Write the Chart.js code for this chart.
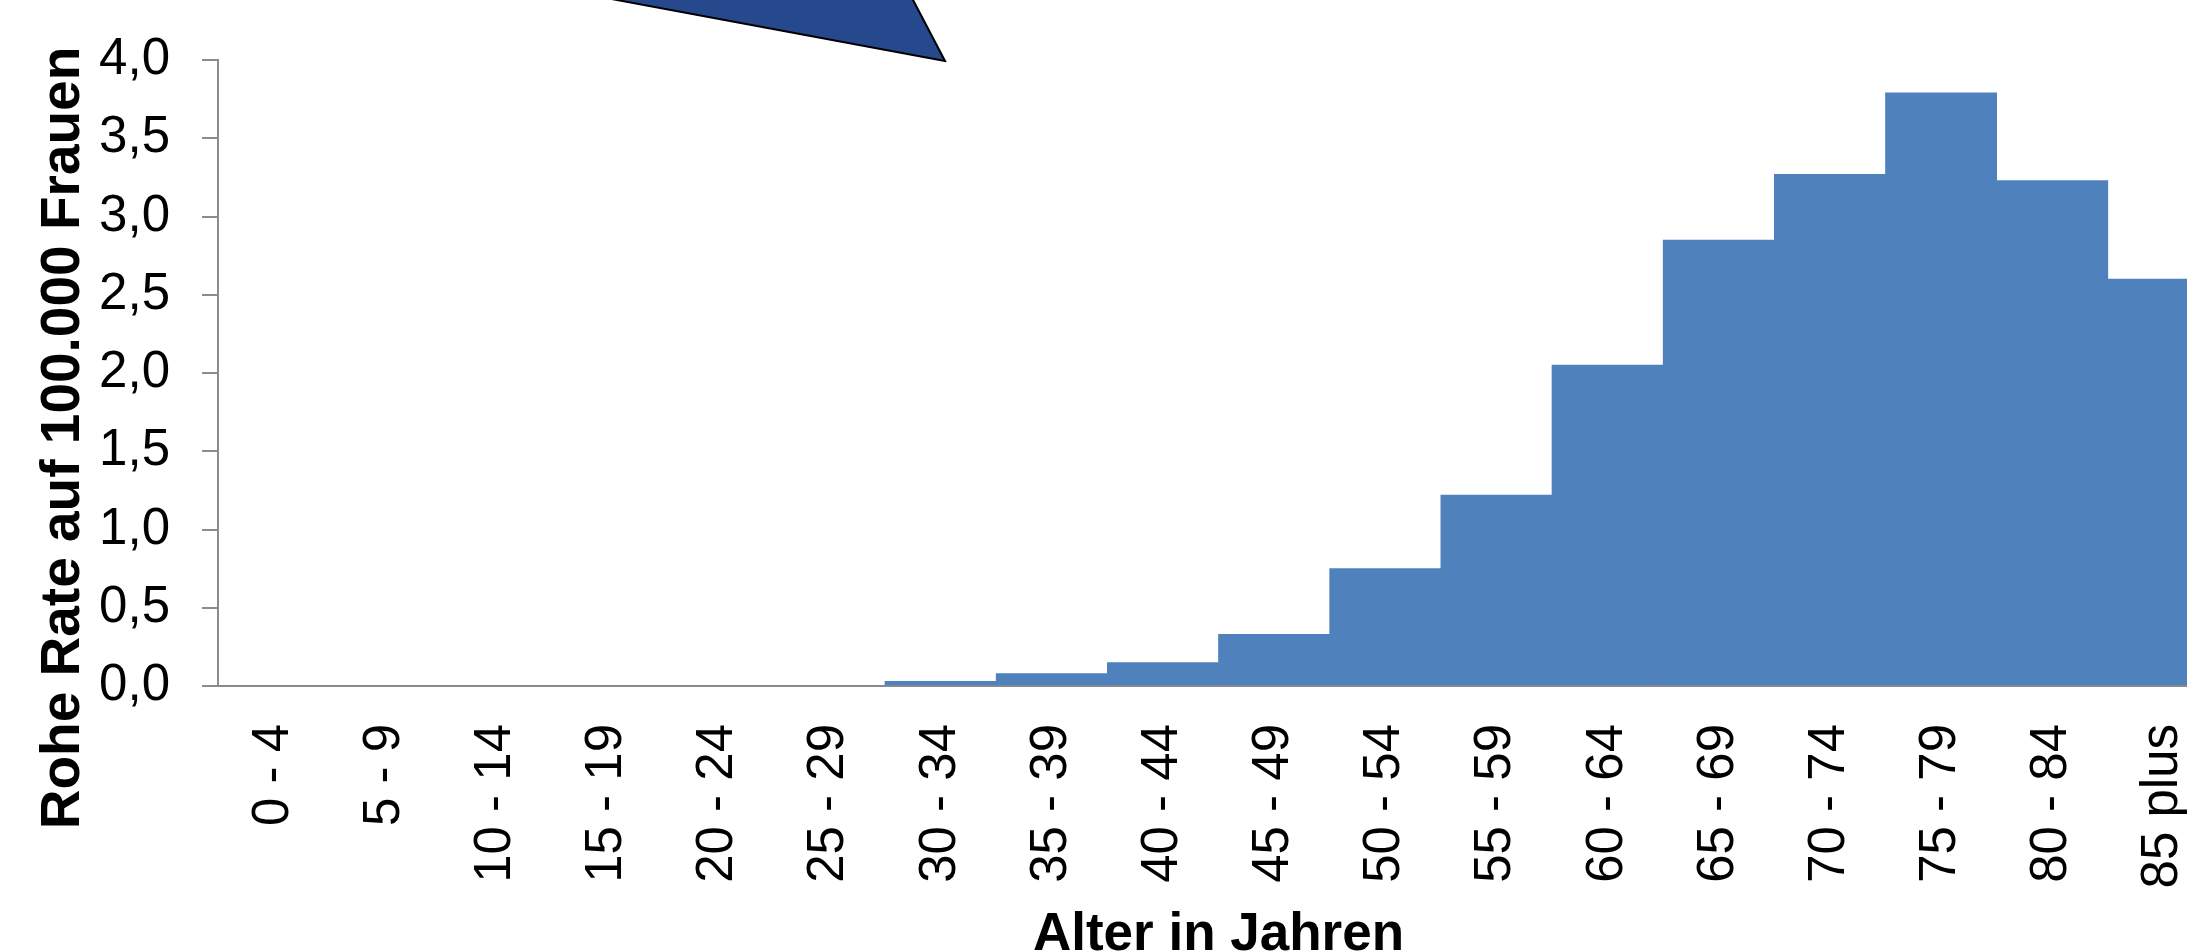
<!DOCTYPE html>
<html>
<head>
<meta charset="utf-8">
<script src="https://cdn.jsdelivr.net/npm/chart.js@4.4.1/dist/chart.umd.min.js"></script>
<style>
  html, body { margin: 0; padding: 0; background: #ffffff; overflow: hidden; width: 2187px; height: 952px; }
  #wrap { position: absolute; left: 0; top: 0; width: 2219px; height: 952px; }
  canvas { display: block; }
</style>
</head>
<body>
<div id="wrap"><canvas id="c" width="2219" height="952"></canvas></div>
<script>
// ---- data ----
const ageGroups = ['0 - 4', '5 - 9', '10 - 14', '15 - 19', '20 - 24', '25 - 29', '30 - 34', '35 - 39',
  '40 - 44', '45 - 49', '50 - 54', '55 - 59', '60 - 64', '65 - 69', '70 - 74', '75 - 79', '80 - 84', '85 plus'];
const rates = [0, 0, 0, 0, 0, 0, 0.03, 0.08, 0.15, 0.33, 0.75, 1.22, 2.05, 2.85, 3.27, 3.79, 3.23, 2.60];
const yTickValues = [0, 0.5, 1.0, 1.5, 2.0, 2.5, 3.0, 3.5, 4.0];
const yTickLabels = ['0,0', '0,5', '1,0', '1,5', '2,0', '2,5', '3,0', '3,5', '4,0'];
const yTitle = 'Rohe Rate auf 100.000 Frauen';
const xTitle = 'Alter in Jahren';

const FONT = '"Liberation Sans", Arial, sans-serif';

const decorPlugin = {
  id: 'decor',
  afterDraw(chart) {
    const ctx = chart.ctx;
    const area = chart.chartArea;
    ctx.save();
    // callout pointer shape at the top
    ctx.beginPath();
    ctx.moveTo(945, 61);
    ctx.lineTo(617 - 5.38 * 12, -12);
    ctx.lineTo(913 - 0.52 * 12, -12);
    ctx.closePath();
    ctx.fillStyle = '#26488C';
    ctx.fill();
    ctx.lineWidth = 2;
    ctx.strokeStyle = '#000000';
    ctx.stroke();

    // axis titles
    ctx.fillStyle = '#000000';
    ctx.textAlign = 'center';
    ctx.textBaseline = 'alphabetic';
    ctx.font = 'bold 53px ' + FONT;
    ctx.fillText(xTitle, (area.left + area.right) / 2, 950);

    ctx.font = 'bold 55px ' + FONT;
    ctx.translate(79, 438);
    ctx.rotate(-Math.PI / 2);
    ctx.fillText(yTitle, 0, 0);
    ctx.restore();
  }
};

new Chart(document.getElementById('c'), {
  type: 'bar',
  data: {
    labels: ageGroups,
    datasets: [{
      data: rates,
      backgroundColor: '#4F81BD',
      borderWidth: 0,
      barPercentage: 1.0,
      categoryPercentage: 1.0
    }]
  },
  options: {
    responsive: false,
    animation: false,
    devicePixelRatio: 1,
    layout: { padding: { top: 60, left: 0, right: 0, bottom: 0 } },
    plugins: { legend: { display: false }, tooltip: { enabled: false }, title: { display: false } },
    scales: {
      x: {
        grid: { display: false },
        border: { display: true, color: '#8C8C8C', width: 2 },
        ticks: {
          color: '#000000',
          font: { family: FONT, size: 51 },
          maxRotation: 90, minRotation: 90,
          padding: 30,
          autoSkip: false
        },
        afterFit(scale) { scale.height = 266; scale.paddingLeft = 0; scale.paddingRight = 0; }
      },
      y: {
        min: 0, max: 4,
        afterBuildTicks(scale) { scale.ticks = yTickValues.map(v => ({ value: v })); },
        grid: { display: true, drawOnChartArea: false, drawTicks: true, tickLength: 16, color: '#8C8C8C', lineWidth: 2 },
        border: { display: true, color: '#8C8C8C', width: 2 },
        ticks: {
          color: '#000000',
          font: { family: FONT, size: 51 },
          padding: 32,
          callback(value, index) { return yTickLabels[index]; }
        },
        afterFit(scale) { scale.width = 218; scale.paddingTop = 0; scale.paddingBottom = 0; }
      }
    }
  },
  plugins: [decorPlugin]
});
</script>
</body>
</html>
